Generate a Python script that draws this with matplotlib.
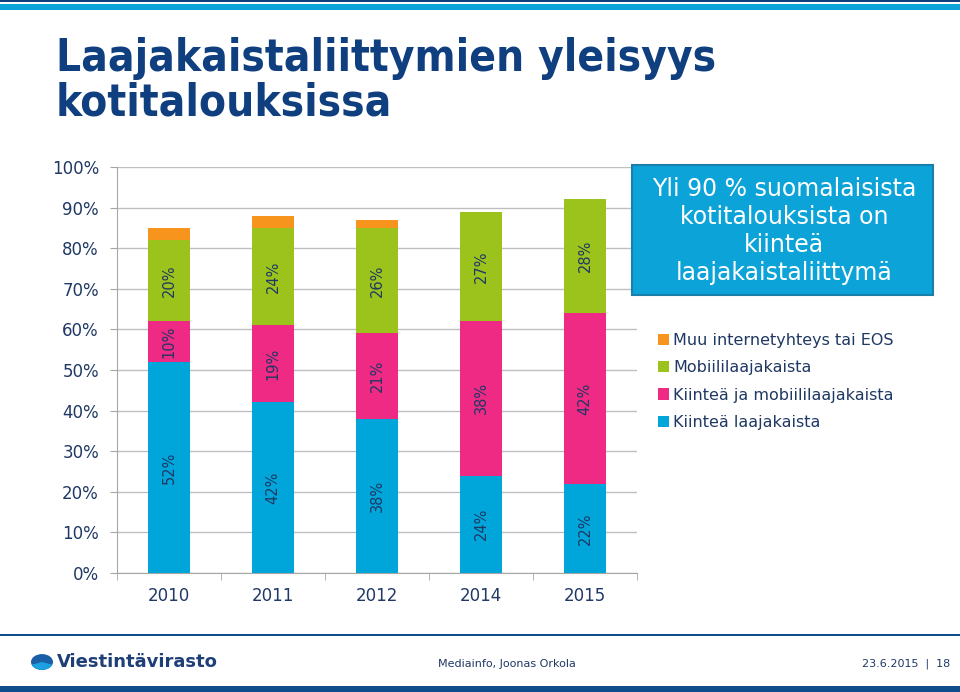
import matplotlib.pyplot as plt
import numpy as np
from matplotlib.patches import Rectangle, Circle, Wedge

years = ["2010", "2011", "2012", "2014", "2015"]
kiintea = [52, 42, 38, 24, 22]
kiintea_mobiili = [10, 19, 21, 38, 42]
mobiili = [20, 24, 26, 27, 28]
muu = [3, 3, 2, 0, 0]

series = [
    ("Kiinteä laajakaista", kiintea, "#00A6DA"),
    ("Kiinteä ja mobiililaajakaista", kiintea_mobiili, "#EE2A84"),
    ("Mobiililaajakaista", mobiili, "#9BC31C"),
    ("Muu internetyhteys tai EOS", muu, "#F7941D"),
]

navy = "#0F3F7F"
label_col = "#1F3864"

plt.rcParams['font.family'] = ['DejaVu Sans']

fig = plt.figure(figsize=(9.6, 6.92), dpi=100)
ax = fig.add_axes([0.1219, 0.172, 0.5417, 0.5867])

x = np.arange(len(years))
bottom = np.zeros(len(years))
for name, vals, col in series:
    vals = np.array(vals)
    ax.bar(x, vals, width=0.4, bottom=bottom, color=col, label=name, zorder=3)
    if name != "Muu internetyhteys tai EOS":
        for xi, b, v in zip(x, bottom, vals):
            ax.text(xi, b + v / 2, f"{v}%", rotation=90, ha='center', va='center',
                    fontsize=10.5, color=label_col, zorder=4)
    bottom = bottom + vals

ax.set_xlim(-0.5, 4.5)
ax.set_ylim(0, 100)
ax.set_yticks(np.arange(0, 101, 10))
ax.set_yticklabels([f"{v}%" for v in range(0, 101, 10)])
ax.set_xticks(x)
ax.set_xticklabels(years)
ax.set_xticks(np.arange(-0.5, 4.6, 1), minor=True)
ax.tick_params(axis='x', which='major', length=0, pad=10, labelsize=12, labelcolor=label_col)
ax.tick_params(axis='x', which='minor', length=5, color='#A6A6A6')
ax.tick_params(axis='y', length=5, color='#A6A6A6', pad=8, labelsize=12, labelcolor=label_col)
ax.grid(axis='y', color='#BFBFBF', linewidth=1, zorder=0)
for s in ['top', 'right']:
    ax.spines[s].set_visible(False)
for s in ['left', 'bottom']:
    ax.spines[s].set_color('#A6A6A6')

handles, labels = ax.get_legend_handles_labels()
leg = fig.legend(handles[::-1], labels[::-1], loc='upper left', bbox_to_anchor=(0.679, 0.528),
                 frameon=False, fontsize=11.5, handlelength=0.7, handleheight=0.7,
                 handletextpad=0.25, labelspacing=0.77, borderaxespad=0)
for t in leg.get_texts():
    t.set_color(label_col)

# callout box
fig.patches.append(Rectangle((632 / 960, 1 - 295 / 692), 301 / 960, 130 / 692,
                             transform=fig.transFigure, facecolor='#0BA3D8',
                             edgecolor='#1A7FAA', linewidth=1.5, zorder=5))
fig.text(784 / 960, 1 - 231 / 692,
         "Yli 90 % suomalaisista\nkotitalouksista on\nkiinteä\nlaajakaistaliittymä",
         ha='center', va='center', color='white', fontsize=17, linespacing=1.22, zorder=6)

# title
fig.text(56 / 960, 1 - 37 / 692, "Laajakaistaliittymien yleisyys\nkotitalouksissa",
         ha='left', va='top', color=navy, fontsize=31.6, fontweight='bold',
         fontstretch='condensed', linespacing=1.03)

# top stripes
fig.patches.append(Rectangle((0, 1 - 2 / 692), 1, 2 / 692, transform=fig.transFigure,
                             facecolor='#0F3F7F', edgecolor='none'))
fig.patches.append(Rectangle((0, 1 - 10 / 692), 1, 6 / 692, transform=fig.transFigure,
                             facecolor='#0BA3D8', edgecolor='none'))

# footer
fig.patches.append(Rectangle((0, 1 - 636 / 692), 1, 2 / 692, transform=fig.transFigure,
                             facecolor='#0F4C8A', edgecolor='none'))
fig.patches.append(Rectangle((0, 0), 1, 6 / 692, transform=fig.transFigure,
                             facecolor='#0F4C8A', edgecolor='none'))
fig.patches.append(Circle((42 / 960, 1 - 662 / 692), 11 / 960, transform=fig.transFigure,
                          facecolor='#1A5FA5', edgecolor='none'))
fig.patches.append(Wedge((42 / 960, 1 - 662 / 692), 11 / 960, 200, 340,
                         transform=fig.transFigure, facecolor='#1BA1E2', edgecolor='none'))
fig.text(57 / 960, 1 - 662 / 692, "Viestintävirasto", ha='left', va='center',
         color='#1F3F77', fontsize=13, fontweight='bold')
fig.text(438 / 960, 1 - 664 / 692, "Mediainfo, Joonas Orkola", ha='left', va='center',
         color=label_col, fontsize=8)
fig.text(950 / 960, 1 - 664 / 692, "23.6.2015  |  18", ha='right', va='center',
         color=label_col, fontsize=8)

fig.savefig("out.png", dpi=100)
